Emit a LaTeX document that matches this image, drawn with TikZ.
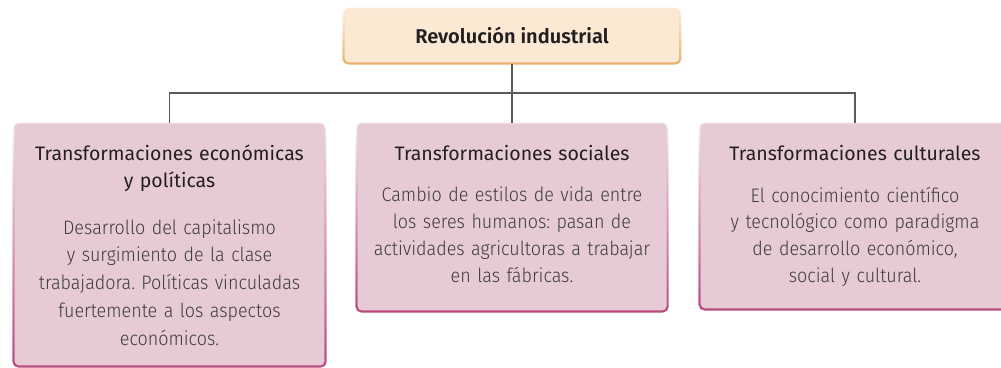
\documentclass[tikz,border=0pt]{standalone}
\usepackage{fontspec}
\setmainfont{Fira Sans}[UprightFont=* Light, FakeStretch=0.92, WordSpace=0.8]
\newfontfamily\headfont{Fira Sans}[WordSpace=0.85]
\newfontfamily\titlefont{Fira Sans}[UprightFont=* SemiBold]
\usetikzlibrary{fadings}
\frenchspacing

\definecolor{titlefill}{HTML}{FBE9D3}
\definecolor{titleedge}{HTML}{E8B06A}
\definecolor{boxfill}{HTML}{E6CAD5}
\definecolor{boxedge}{HTML}{B8487E}
\definecolor{lightedge}{HTML}{F1E2E8}
\definecolor{linkgray}{HTML}{5A5A5A}
\definecolor{headtext}{HTML}{231F20}
\definecolor{bodytext}{HTML}{3C3C3C}

\tikzfading[name=edgefade, top color=transparent!100, middle color=transparent!45, bottom color=transparent!0]

\begin{document}
\begin{tikzpicture}[x=1pt,y=-1pt]
                \useasboundingbox (0,0) rectangle (1001,367);
                \begin{scope}[every node/.style={rounded corners=5pt, inner sep=0, draw=lightedge, line width=1pt}]
                        \node[fill=titlefill, draw=titlefill!70!white, minimum width=336pt, minimum height=55pt] (R) at (512,35.5) {};
                        \node[fill=boxfill, minimum width=311pt, minimum height=243pt] (E) at (169.5,244.5) {};
                        \node[fill=boxfill, minimum width=310pt, minimum height=188pt] (S) at (512,217) {};
                        \node[fill=boxfill, minimum width=310pt, minimum height=186pt] (C) at (855,216) {};
                \end{scope}
                \begin{scope}[every path/.style={line width=2.2pt, rounded corners=5pt, path fading=edgefade}]
                        \draw[titleedge] (R.south west) rectangle (R.north east);
                        \draw[boxedge] (E.south west) rectangle (E.north east);
                        \draw[boxedge] (S.south west) rectangle (S.north east);
                        \draw[boxedge] (C.south west) rectangle (C.north east);
                \end{scope}
                \coordinate (J) at (512,93);
                \begin{scope}[every path/.style={line width=1.8pt, draw=linkgray}]
                        \path (R.south) edge (J);
                        \path (J) edge (S.north);
                        \draw (E.north) |- (J) -| (C.north);
                \end{scope}
                \node[anchor=base, text=headtext, font=\titlefont\fontsize{20}{24}\selectfont] (Rt) at (512,43) {Revolución industrial};
                \begin{scope}[every node/.style={anchor=base, text width=300pt, align=center, inner sep=0}]
                        \node[text=headtext, font=\headfont\fontsize{19.5}{27}\selectfont] (Eh) at (169.5,160) {Transformaciones económicas\\y políticas};
                        \node[text=headtext, font=\headfont\fontsize{19.5}{27}\selectfont] (Sh) at (512,160) {Transformaciones sociales};
                        \node[text=headtext, font=\headfont\fontsize{19.5}{27}\selectfont] (Ch) at (855,160) {Transformaciones culturales};
                        \node[text=bodytext, font=\fontsize{19.5}{27.8}\selectfont] (Eb) at (169.5,234) {Desarrollo del capitalismo\\y surgimiento de la clase\\trabajadora. Políticas vinculadas\\fuertemente a los aspectos\\económicos.};
                        \node[text=bodytext, font=\fontsize{19.5}{27}\selectfont] (Sb) at (512,201) {Cambio de estilos de vida entre\\los seres humanos: pasan de\\actividades agricultoras a trabajar\\en las fábricas.};
                        \node[text=bodytext, font=\fontsize{19.5}{26.7}\selectfont] (Cb) at (855,202) {El conocimiento científico\\y tecnológico como paradigma\\de desarrollo económico,\\social y cultural.};
                \end{scope}
\end{tikzpicture}
\end{document}
